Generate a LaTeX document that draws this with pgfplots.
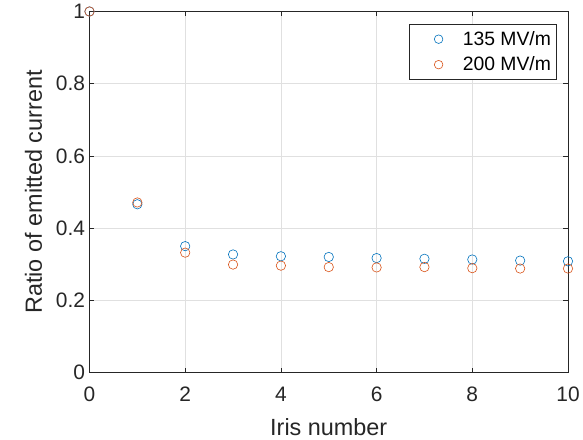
\documentclass[border=0pt]{standalone}
\usepackage{fontspec}
\setmainfont{Liberation Sans}
\usepackage{pgfplots}
\pgfplotsset{compat=1.18}
\definecolor{mblue}{rgb}{0,0.447,0.741}
\definecolor{morange}{rgb}{0.85,0.325,0.098}
\definecolor{axcol}{rgb}{0.15,0.15,0.15}
\begin{document}
\begin{tikzpicture}
\path[use as bounding box] (-89.5bp,-67.5bp) rectangle (493.5bp,372.5bp);
\begin{axis}[
  at={(0,0)}, anchor=south west,
  scale only axis, width=478.5bp, height=361bp,
  xmin=0, xmax=10, ymin=0, ymax=1,
  xtick={0,2,...,10}, ytick={0,0.2,...,1},
  yticklabels={0,0.2,0.4,0.6,0.8,1},
  /pgf/number format/assume math mode=true,
  tick label style={font=\fontsize{21}{24}\selectfont, text=axcol},
  xticklabel style={yshift=-11bp},
  yticklabel style={xshift=-1bp},
  label style={font=\fontsize{23.5}{27}\selectfont, text=axcol},
  xlabel={Iris number}, ylabel={Ratio of emitted current},
  xlabel style={yshift=-10bp},
  ylabel style={yshift=7bp},
  axis line style={axcol, line width=0.6bp},
  tick style={axcol, line width=0.6bp},
  major tick length=5bp,
  tick align=inside,
  xtick pos=both, ytick pos=both,
  grid=major,
  major grid style={color=black!12, line width=0.6bp},
  legend style={at={(rel axis cs:0.9755,0.965)}, anchor=north east,
    font=\fontsize{19.4}{22}\selectfont, draw=axcol, line width=0.6bp,
    inner xsep=3bp, inner ysep=5bp, row sep=6bp},
  legend cell align=left,
  legend image code/.code={\path (0bp,0bp) (48bp,0bp); \draw[#1] (26bp,0bp) circle (4.3bp);},
  clip=false,
]
\addplot[only marks, mark=o, mark size=4.7bp, mblue, line width=0.6bp] coordinates {
(0,1.0) (1,0.466) (2,0.350) (3,0.327) (4,0.322) (5,0.320) (6,0.317) (7,0.315) (8,0.313) (9,0.310) (10,0.308)};
\addlegendentry{135 MV/m}
\addplot[only marks, mark=o, mark size=4.7bp, morange, line width=0.6bp] coordinates {
(0,1.0) (1,0.471) (2,0.332) (3,0.299) (4,0.296) (5,0.292) (6,0.291) (7,0.292) (8,0.289) (9,0.288) (10,0.288)};
\addlegendentry{200 MV/m}
\end{axis}
\end{tikzpicture}
\end{document}
